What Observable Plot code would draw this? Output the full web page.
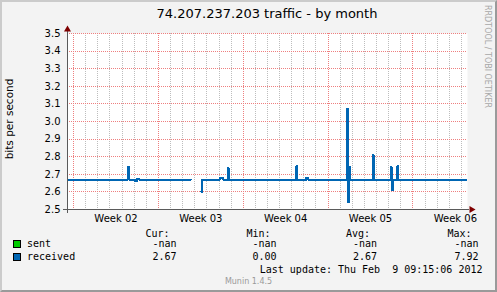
<!DOCTYPE html>
<html><head><meta charset="utf-8">
<script src="https://cdn.jsdelivr.net/npm/d3@7"></script>
<script src="https://cdn.jsdelivr.net/npm/@observablehq/plot@0.6"></script>
<style>
html,body{margin:0;padding:0;background:#f3f3f3;}
#wrap{position:relative;width:497px;height:292px;overflow:hidden;background:#f3f3f3;}
#wrap svg{display:block;position:absolute;left:0;top:0;}
#border{position:absolute;left:0;top:0;width:497px;height:292px;box-sizing:border-box;border-top:2px solid #cbcbcb;border-left:2px solid #cbcbcb;border-right:2px solid #9a9a9a;border-bottom:2px solid #9a9a9a;pointer-events:none;}
</style></head><body><div id="wrap"></div>
<script>
// ---- texts
const title = "74.207.237.203 traffic - by month";
const yLabel = "bits per second";
const vendor = "RRDTOOL / TOBI OETIKER";
const footer = "Munin 1.4.5";
const lastUpdate = "Last update: Thu Feb  9 09:15:06 2012";

// ---- time window (33 days, munin "month")
const windowStart = "2012-01-07T12:00:00Z";
const windowEnd = "2012-02-09T12:00:00Z";

// ---- received series (change points, step-after); NaN = no data
const times = [
  "2012-01-07T12:00:00Z","2012-01-12T12:00:00Z","2012-01-12T14:00:00Z",
  "2012-01-13T02:00:00Z","2012-01-13T06:00:00Z","2012-01-13T10:00:00Z",
  "2012-01-17T16:00:00Z","2012-01-18T00:00:00Z",
  "2012-01-18T13:00:00Z","2012-01-18T15:00:00Z",
  "2012-01-20T02:00:00Z","2012-01-20T08:00:00Z",
  "2012-01-20T17:00:00Z","2012-01-20T19:00:00Z",
  "2012-01-26T09:00:00Z","2012-01-26T11:00:00Z",
  "2012-01-26T23:00:00Z","2012-01-27T04:00:00Z","2012-01-27T09:00:00Z",
  "2012-01-30T13:00:00Z","2012-01-30T15:00:00Z","2012-01-30T17:00:00Z","2012-01-30T19:00:00Z",
  "2012-02-01T16:00:00Z","2012-02-01T18:00:00Z",
  "2012-02-03T04:00:00Z","2012-02-03T06:00:00Z","2012-02-03T09:00:00Z",
  "2012-02-03T17:00:00Z","2012-02-03T19:00:00Z",
  "2012-02-09T12:00:00Z"
];
const received = [
  2.67, 2.74, 2.67,
  2.66, 2.675, 2.67,
  2.67, NaN,
  2.60, 2.67,
  2.68, 2.67,
  2.735, 2.67,
  2.745, 2.67,
  2.665, 2.68, 2.67,
  3.07, 2.54, 2.74, 2.67,
  2.807, 2.67,
  2.74, 2.61, 2.67,
  2.746, 2.67,
  2.67
];

// ---- axes
const yTicks = [2.5, 2.6, 2.7, 2.8, 2.9, 3.0, 3.1, 3.2, 3.3, 3.4, 3.5];
const weekLabels = ["Week 02", "Week 03", "Week 04", "Week 05", "Week 06"];

// ---- legend
const legendNames = ["sent", "received"];
const legendColors = ["#00CC00", "#0066B3"];
const statHeaders = ["Cur:", "Min:", "Avg:", "Max:"];
const sentStats = ["-nan", "-nan", "-nan", "-nan"];
const receivedStats = ["2.67", "0.00", "2.67", "7.92"];

// ---- build
const t0 = new Date(windowStart), t1 = new Date(windowEnd);
const data = times.map((t, i) => ({date: new Date(t), value: received[i]}));
const days = d3.utcDay.range(d3.utcDay.ceil(t0), t1);
const sundays = d3.utcSunday.range(d3.utcSunday.ceil(t0), t1);
const weekCenters = sundays.map(d => d3.utcHour.offset(d, 84));
const gridY = yTicks.slice(1);
const axisColor = "#5a5a5a";
const arrowColor = "#7f0000";
const mgrid = "#ee7f7f";
const grid = "#bdbdbd";
const crisp = {shapeRendering: "crispEdges"};

const svg = Plot.plot({
  width: 497, height: 292,
  marginLeft: 67, marginRight: 30, marginTop: 33, marginBottom: 83,
  x: {type: "utc", domain: [t0, t1], axis: null},
  y: {domain: [2.5, 3.5], axis: null},
  style: {background: "transparent", fontFamily: "DejaVu Sans", fontSize: "10px", color: "#000", overflow: "visible"},
  marks: [
    Plot.frame({fill: "#ffffff", stroke: null}),
    Plot.ruleX(days, {stroke: grid, strokeDasharray: "1,1", ...crisp}),
    Plot.ruleX(sundays, {stroke: mgrid, strokeDasharray: "1,1", ...crisp}),
    Plot.ruleY(gridY, {stroke: mgrid, strokeDasharray: "1,1", ...crisp}),
    Plot.line(data, {x: "date", y: "value", curve: "step-after", stroke: "#0066B3", strokeWidth: 2, clip: true, ...crisp}),
    Plot.axisY({ticks: yTicks, tickFormat: d3.format(".1f"), tickSize: 0, tickPadding: 7, fill: "#000"}),
    Plot.axisX({ticks: weekCenters, tickFormat: (d, i) => weekLabels[i], tickSize: 0, tickPadding: 5, fill: "#000"}),
    Plot.ruleX([t0], {stroke: axisColor, insetTop: -2, insetBottom: -4, ...crisp}),
    Plot.ruleY([2.5], {stroke: axisColor, insetLeft: -4, insetRight: -2, ...crisp}),
    Plot.dot([{d: t0, v: 3.5}], {x: "d", y: "v", symbol: "triangle", r: 2.6, fill: arrowColor, stroke: null, dy: -4}),
    Plot.dot([{d: t1, v: 2.5}], {x: "d", y: "v", symbol: "triangle", r: 2.6, fill: arrowColor, stroke: null, rotate: 90, dx: 4})
  ]
});

const sx = svg.scale("x").range, sy = svg.scale("y").range;
const g = d3.select(svg).append("g").attr("text-anchor", "start");
// title
g.append("text").attr("x", (sx[0] + sx[1]) / 2).attr("y", 18.3)
  .attr("text-anchor", "middle").attr("font-family", "DejaVu Sans").attr("font-size", 13).attr("fill", "#000").text(title);
// y label
g.append("text").attr("transform", `translate(13,${(sy[0] + sy[1]) / 2 - 2}) rotate(-90)`)
  .attr("text-anchor", "middle").attr("font-family", "DejaVu Sans").attr("font-size", 10.5).attr("fill", "#000").text(yLabel);
// vendor
g.append("text").attr("transform", "translate(484.5,5) rotate(90)")
  .attr("text-anchor", "start").attr("font-family", "DejaVu Sans").attr("font-size", 8).attr("fill", "#a8a8a8").text(vendor);
// legend
const mono = "DejaVu Sans Mono";
const headerX = [145.5, 246.5, 346, 447.5];
const valueRight = [176.5, 276.5, 377, 478.5];
const rowY = [247, 260];
statHeaders.forEach((h, i) => g.append("text").attr("x", headerX[i]).attr("y", 237)
  .attr("text-anchor", "start").attr("font-family", mono).attr("font-size", 10).attr("fill", "#000").text(h));
legendNames.forEach((n, r) => {
  g.append("rect").attr("x", 13.5).attr("y", rowY[r] - 6.5).attr("width", 7).attr("height", 7)
    .attr("fill", legendColors[r]).attr("stroke", "#000").attr("stroke-width", 1);
  g.append("text").attr("x", 27).attr("y", rowY[r]).attr("text-anchor", "start")
    .attr("font-family", mono).attr("font-size", 10).attr("fill", "#000").text(n);
  const stats = r === 0 ? sentStats : receivedStats;
  stats.forEach((s, i) => g.append("text").attr("x", valueRight[i]).attr("y", rowY[r])
    .attr("text-anchor", "end").attr("font-family", mono).attr("font-size", 10).attr("fill", "#000").text(s));
});
g.append("text").attr("x", 482.5).attr("y", 272.5).attr("text-anchor", "end")
  .attr("font-family", mono).attr("font-size", 10).attr("fill", "#000").style("white-space", "pre").text(lastUpdate);
g.append("text").attr("x", 248.5).attr("y", 284).attr("text-anchor", "middle")
  .attr("font-family", "DejaVu Sans").attr("font-size", 8).attr("fill", "#9a9a9a").text(footer);

const wrap = document.getElementById("wrap");
wrap.appendChild(svg);
const border = document.createElement("div");
border.id = "border";
wrap.appendChild(border);
</script>
</body></html>
